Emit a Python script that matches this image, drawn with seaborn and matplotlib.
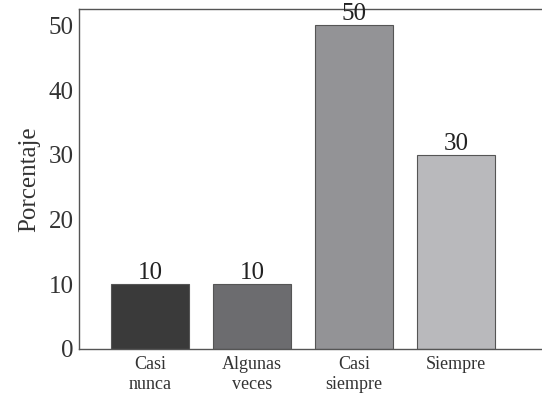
import matplotlib
matplotlib.use("Agg")
import matplotlib.pyplot as plt
import seaborn as sns
import pandas as pd

# Datos del gráfico
categorias = ["Casi\nnunca", "Algunas\nveces", "Casi\nsiempre", "Siempre"]
porcentajes = [10, 10, 50, 30]
colores = ["#3a3a3a", "#6b6c70", "#929397", "#b8b9bc"]
ticks_y = [0, 10, 20, 30, 40, 50]

sns.set_theme(style="white")
plt.rcParams["font.family"] = ["Liberation Serif", "DejaVu Serif"]

df = pd.DataFrame({"categoria": categorias, "porcentaje": porcentajes})

fig = plt.figure(figsize=(5.42, 3.96), dpi=100)
ax = fig.add_axes([0.1458, 0.1187, 0.8542, 0.8583])

sns.barplot(data=df, x="categoria", y="porcentaje", hue="categoria",
            palette=colores, legend=False, width=0.76,
            edgecolor="#555555", linewidth=0.8, ax=ax)

# etiquetas de valor encima de cada barra
for cont in ax.containers:
    ax.bar_label(cont, fmt="%d", fontsize=18, color="#222222", padding=0)

ax.set_xlim(-0.696, 3.84)
ax.set_ylim(0, 52.5)
ax.set_yticks(ticks_y)
ax.tick_params(axis="y", labelsize=18, length=0, pad=4, colors="#333333")
ax.tick_params(axis="x", labelsize=13, length=0, pad=5, colors="#333333")
ax.set_xlabel("")
ax.set_ylabel("Porcentaje", fontsize=18, color="#333333", labelpad=6)

for s in ["left", "top", "bottom"]:
    ax.spines[s].set_color("#555555")
    ax.spines[s].set_linewidth(1.0)
ax.spines["right"].set_visible(False)

fig.savefig("out.png", dpi=100)
plt.close(fig)
